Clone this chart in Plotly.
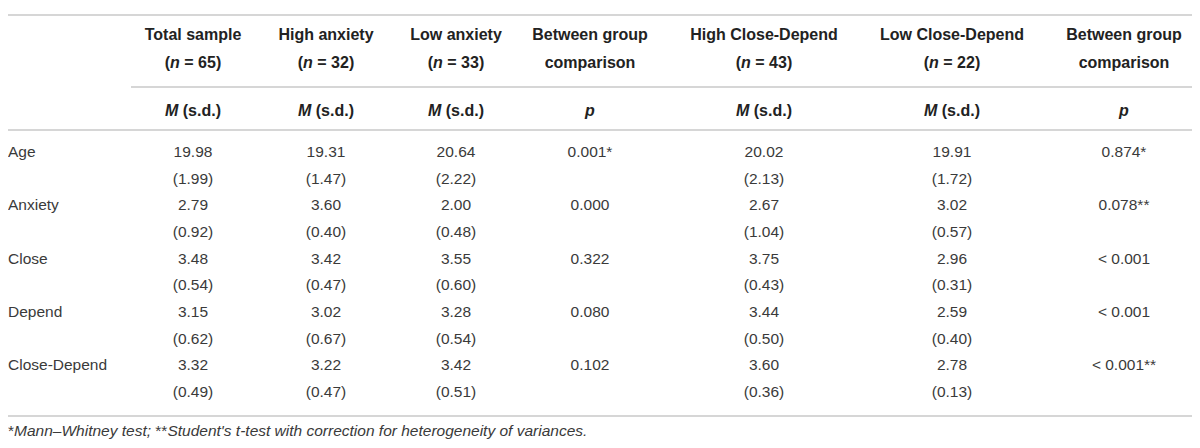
import plotly.graph_objects as go

# ---------------- data ----------------
variables = ["Age", "Anxiety", "Close", "Depend", "Close-Depend"]

group_titles = ["Total sample", "High anxiety", "Low anxiety", "Between group",
                "High Close-Depend", "Low Close-Depend", "Between group"]
group_subtitles = ["(<i>n</i> = 65)", "(<i>n</i> = 32)", "(<i>n</i> = 33)", "comparison",
                   "(<i>n</i> = 43)", "(<i>n</i> = 22)", "comparison"]
stat_labels = ["<i>M</i> (s.d.)", "<i>M</i> (s.d.)", "<i>M</i> (s.d.)", "<i>p</i>",
               "<i>M</i> (s.d.)", "<i>M</i> (s.d.)", "<i>p</i>"]

total_m = [19.98, 2.79, 3.48, 3.15, 3.32]
total_sd = [1.99, 0.92, 0.54, 0.62, 0.49]
high_anx_m = [19.31, 3.60, 3.42, 3.02, 3.22]
high_anx_sd = [1.47, 0.40, 0.47, 0.67, 0.47]
low_anx_m = [20.64, 2.00, 3.55, 3.28, 3.42]
low_anx_sd = [2.22, 0.48, 0.60, 0.54, 0.51]
p_anx = ["0.001*", "0.000", "0.322", "0.080", "0.102"]
high_cd_m = [20.02, 2.67, 3.75, 3.44, 3.60]
high_cd_sd = [2.13, 1.04, 0.43, 0.50, 0.36]
low_cd_m = [19.91, 3.02, 2.96, 2.59, 2.78]
low_cd_sd = [1.72, 0.57, 0.31, 0.40, 0.13]
p_cd = ["0.874*", "0.078**", "< 0.001", "< 0.001", "< 0.001**"]

footnote = ("*<i>Mann–Whitney test;</i> **<i>Student's t-test with correction for "
            "heterogeneity of variances.</i>")

# ---------------- layout constants ----------------
W, H = 1200, 448
OFF = 8  # default page body margin of the written HTML
LABEL_X = 8
COL_X = [193, 326, 456, 590, 764, 952, 1124]
HEAD_Y = [36, 64, 112]
ROW0_Y = 153
ROW_STEP = 26.7
RULES = [(8, 1192, 15), (131, 1192, 87), (8, 1192, 130), (8, 1192, 416)]
FOOT_X = 8
FOOT_Y = 432

FONT = "Liberation Sans, Arial, Helvetica, sans-serif"
TXT = "#3a3a3a"
HDR = "#222222"
RULE = "#d6d6d6"
FS = 15.5
HFS = 16

fig = go.Figure()

def add_text(xs, ys, texts, bold=False, pos="middle center", color=TXT, size=FS):
    fig.add_trace(go.Scatter(
        x=xs, y=ys, mode="text",
        text=[f"<b>{t}</b>" if bold else t for t in texts],
        textposition=pos,
        textfont=dict(family=FONT, size=size, color=color),
        hoverinfo="skip", showlegend=False, cliponaxis=False))

# headers
add_text(COL_X, [HEAD_Y[0]] * 7, group_titles, bold=True, color=HDR, size=HFS)
add_text(COL_X, [HEAD_Y[1]] * 7, group_subtitles, bold=True, color=HDR, size=HFS)
add_text(COL_X, [HEAD_Y[2]] * 7, stat_labels, bold=True, color=HDR, size=HFS)

# body
mean_rows = [ROW0_Y + 2 * i * ROW_STEP for i in range(len(variables))]
sd_rows = [y + ROW_STEP for y in mean_rows]

add_text([LABEL_X] * len(variables), mean_rows, variables, pos="middle right")

means = [total_m, high_anx_m, low_anx_m, None, high_cd_m, low_cd_m, None]
sds = [total_sd, high_anx_sd, low_anx_sd, None, high_cd_sd, low_cd_sd, None]
pvals = {3: p_anx, 6: p_cd}

for c, cx in enumerate(COL_X):
    if means[c] is not None:
        add_text([cx] * len(variables), mean_rows, [f"{v:.2f}" for v in means[c]])
        add_text([cx] * len(variables), sd_rows, [f"({v:.2f})" for v in sds[c]])
    else:
        add_text([cx] * len(variables), mean_rows, pvals[c])

# footnote
add_text([FOOT_X], [FOOT_Y], [footnote], pos="middle right", size=15.5)

for x0, x1, y in RULES:
    fig.add_shape(type="line", x0=x0, x1=x1, y0=y, y1=y, xref="x", yref="y",
                  line=dict(color=RULE, width=2))

fig.update_layout(
    width=W, height=H,
    margin=dict(l=0, r=0, t=0, b=0),
    paper_bgcolor="white", plot_bgcolor="white",
    xaxis=dict(range=[OFF, W + OFF], visible=False, fixedrange=True),
    yaxis=dict(range=[H + OFF, OFF], visible=False, fixedrange=True),
)

fig.write_html("out.html")
